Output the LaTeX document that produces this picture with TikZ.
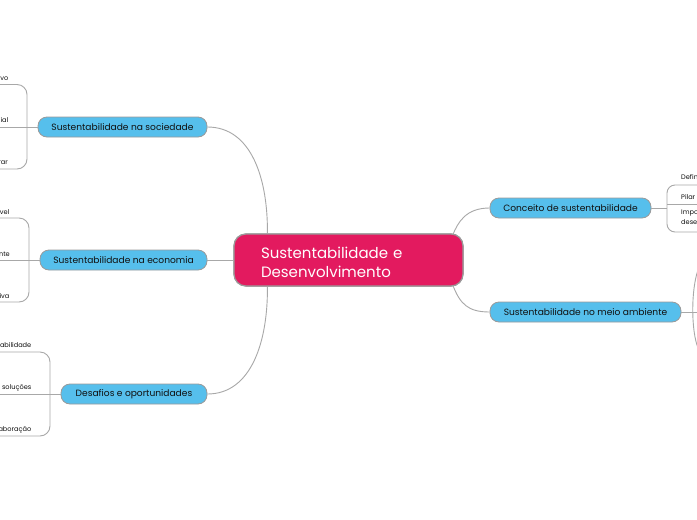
\documentclass[tikz,border=0pt]{standalone}
\usepackage{fontspec}
\setmainfont{Poppins}
\definecolor{pinkc}{HTML}{E31A5F}
\definecolor{bluec}{HTML}{56BFEC}
\definecolor{linec}{HTML}{A8A8A8}
\definecolor{bordc}{HTML}{9A9A9A}
\definecolor{txt}{HTML}{111111}
\tikzset{
  centralnode/.style={draw=bordc, line width=1.2pt, fill=pinkc, rounded corners=12pt,
    minimum width=229pt, minimum height=52pt, text width=175pt, align=left,
    text=white, font=\fontsize{15}{19}\selectfont, inner sep=0pt},
  topicnode/.style={draw=bordc, line width=0.8pt, fill=bluec, rounded corners=9pt,
    minimum height=20pt, inner sep=0pt, text=txt, font=\fontsize{9.1}{10}\selectfont},
  leafnode/.style={inner sep=0pt, text=txt, font=\fontsize{6.6}{10}\selectfont},
  branch/.style={draw=linec, line width=0.9pt},
}
\begin{document}
\begin{tikzpicture}[x=1pt,y=-1pt]
\useasboundingbox[fill=white] (0,0) rectangle (697,520);

\node[centralnode] (c) at (348.5,260) {\rule{0pt}{16pt}Sustentabilidade e\\Desenvolvimento};
\node[topicnode, minimum width=169pt] (soc) at (122.5,127) {Sustentabilidade na sociedade};
\node[topicnode, minimum width=167pt] (eco) at (123.5,260) {Sustentabilidade na economia};
\node[topicnode, minimum width=146pt] (des) at (134,394) {Desafios e oportunidades};
\node[topicnode, minimum width=161pt] (con) at (570.5,208) {Conceito de sustentabilidade};
\node[topicnode, minimum width=191pt] (mei) at (585.5,312) {Sustentabilidade no meio ambiente};

\coordinate (ctl) at ([xshift=34pt]c.north west);
\coordinate (cbl) at ([xshift=34pt]c.south west);
\coordinate (ctr) at ([xshift=-11pt,yshift=-2pt]c.north east);
\coordinate (cbr) at ([xshift=-11pt,yshift=2pt]c.south east);

\draw[branch] (soc.east) .. controls (252,127) and (268,180) .. (ctl);
\draw[branch] (des.east) .. controls (252,394) and (268,340) .. (cbl);
\draw[branch] (eco.east) -- (c.west);
\draw[branch] (con.east -| con.west) .. controls (466,208) and (458,222) .. (ctr);
\draw[branch] (cbr) .. controls (460,304) and (468,312) .. (mei.west);

% redraw central node over line ends
\node[centralnode] at (348.5,260) {\rule{0pt}{16pt}Sustentabilidade e\\Desenvolvimento};

% left leaves: sociedade
\node[leafnode, anchor=base east] (s1) at (8.5,80) {vo};
\node[leafnode, anchor=base east] (s2) at (8.5,122) {ial};
\node[leafnode, anchor=base east] (s3) at (8,164) {rar};
\draw[branch, rounded corners=10pt] (0,84.5) -| (27,127) |- (0,169);
\draw[branch] (soc.west) -- (0,127);

% economia
\node[leafnode, anchor=base east] (e1) at (9.5,214) {vel};
\node[leafnode, anchor=base east] (e2) at (10,256) {nte};
\node[leafnode, anchor=base east] (e3) at (9.5,298) {iva};
\draw[branch, rounded corners=10pt] (0,218) -| (29,260) |- (0,302);
\draw[branch] (eco.west) -- (0,260);

% desafios
\node[leafnode, anchor=base east] (d1) at (31.5,347) {abilidade};
\node[leafnode, anchor=base east] (d2) at (31.5,389) {soluções};
\node[leafnode, anchor=base east] (d3) at (31.5,431) {aboração};
\draw[branch, rounded corners=10pt] (0,352) -| (50,394) |- (0,436);
\draw[branch] (des.west) -- (0,394);

% conceito leaves
\node[leafnode, anchor=base west] (k1) at (681,179) {Defin};
\node[leafnode, anchor=base west] (k2) at (681,199) {Pilar};
\node[leafnode, anchor=north west, align=left, font=\fontsize{6.6}{10}\selectfont] (k3) at (681,210) {Impo\\dese};
\draw[branch, rounded corners=8pt] (697,185) -| (667,208) |- (697,232);
\draw[branch] (667,204) -- (697,204);
\draw[branch] (con.east) -- (667,208);

% meio ambiente bracket
\draw[branch] (698,270) .. controls (691,290) and (691,330) .. (698,348);
\draw[branch] (mei.east) -- (697,312);
\end{tikzpicture}
\end{document}
